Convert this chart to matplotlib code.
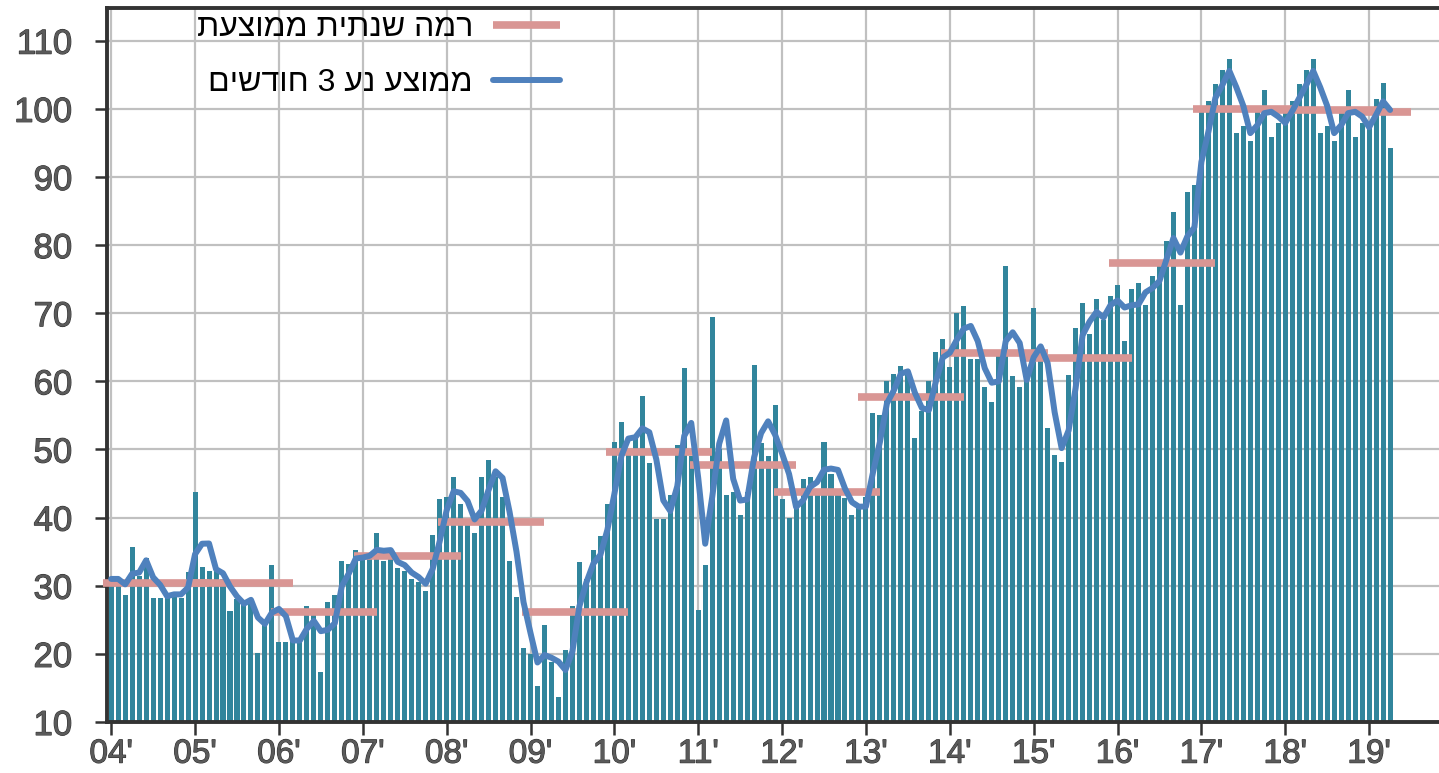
import numpy as np
import pandas as pd
import matplotlib
matplotlib.use('Agg')
import matplotlib.pyplot as plt
import matplotlib.patheffects as pe

plt.rcParams['font.family'] = ['Liberation Sans', 'DejaVu Sans']

# monthly index values, Jan 2004 - Apr 2019
y2004 = [31, 31, 28.6, 35.7, 31.5, 34, 28.2, 28.2, 29, 29, 28.2, 32]
y2005 = [43.7, 32.8, 32.1, 32.4, 31, 26.3, 28, 27.8, 28, 20.2, 25, 33]
y2006 = [21.8, 21.8, 22.3, 21.8, 27, 25.7, 17.3, 27.6, 28.6, 33.6, 33.2, 35.2]
y2007 = [34, 34, 37.8, 33.6, 34.3, 32.6, 32.2, 31, 30.6, 29.3, 37.5, 42.7]
y2008 = [43, 45.9, 42, 39.4, 37.8, 45.9, 48.5, 46, 43, 33.6, 28.3, 20.9]
y2009 = [20, 15.3, 24.2, 18.8, 13.6, 20.5, 27, 33.5, 31, 35.3, 37.3, 42]
y2010 = [51.1, 54, 49.7, 51.7, 57.9, 48, 39.8, 39.8, 43.3, 50.7, 62, 49]
y2011 = [26.5, 33, 69.5, 50, 43.3, 43.8, 40.4, 43.8, 62.4, 51, 49, 56.5]
y2012 = [42.7, 40, 42, 45.6, 45.9, 44.1, 51.1, 46.4, 43.5, 42.9, 40.4, 41.5]
y2013 = [43, 55.3, 55, 60, 61.1, 62.3, 61, 51.7, 55.6, 60, 64.3, 66.2]
y2014 = [62.1, 70, 71.1, 63.3, 63.3, 59.2, 56.9, 63.9, 76.9, 60.8, 59.2, 60.6]
y2015 = [70.8, 64, 53.2, 49.2, 48.2, 61, 67.8, 71.5, 67, 72.1, 69, 72.5]
y2016 = [74.1, 65.9, 73.5, 74.5, 71.2, 75.4, 77.6, 80.6, 84.9, 71.2, 87.8, 88.8]
y2017 = [100, 101.1, 103.7, 105.7, 107.3, 96.5, 97.5, 95.3, 100, 102.8, 95.9, 97.9]
y2018 = [100, 101.1, 103.7, 105.7, 107.3, 96.5, 97.5, 95.3, 100, 102.8, 95.9, 97.9]
y2019 = [98.1, 101.4, 103.8, 94.3]

annual_avg = [30.4, 30.4, 26.1, 34.4, 39.3, 26.2, 49.6, 47.7, 43.8,
              57.7, 64.2, 63.5, 77.3, 100.0, 99.9, 99.6]
year_labels = ["04'", "05'", "06'", "07'", "08'", "09'", "10'", "11'",
               "12'", "13'", "14'", "15'", "16'", "17'", "18'", "19'"]

label_annual = 'רמה שנתית ממוצעת'
label_ma = 'ממוצע נע 3 חודשים'

monthly = np.concatenate([y2004, y2005, y2006, y2007, y2008, y2009, y2010, y2011,
                          y2012, y2013, y2014, y2015, y2016, y2017, y2018, y2019])
x = np.arange(len(monthly))
ma3 = pd.Series(monthly).rolling(3, min_periods=1).mean()

fig = plt.figure(figsize=(14.39, 7.73), dpi=100)
ax = fig.add_axes([107 / 1439, 51 / 773, 1 - 107 / 1439, 714 / 773])

ax.bar(x, monthly, width=0.72, color='#31859C', zorder=2)

# annual average segments
for i, val in enumerate(annual_avg):
    start = 12 * i - 1.2
    end = min(12 * i + 14, len(monthly) + 2)
    seg, = ax.plot([start, end], [val, val], color='#D99694', lw=5.5,
                   solid_capstyle='butt', zorder=3, clip_on=False)

ma_line, = ax.plot(x, ma3, color='#4F81BD', lw=4.3, zorder=4,
                   solid_joinstyle='round', solid_capstyle='round')

ax.set_xlim(-0.6, 190)
ax.set_ylim(10, 114.8)
ax.set_yticks(range(10, 111, 10))
ax.set_xticks(np.arange(0, len(year_labels) * 12, 12))
ax.set_xticklabels(year_labels)

ax.grid(True, color='#c0c0c0', lw=1.6)
ax.set_axisbelow(True)

for side in ['left', 'bottom', 'top']:
    ax.spines[side].set_color('#333333')
    ax.spines[side].set_linewidth(2.8)
ax.spines['right'].set_visible(False)

ax.tick_params(axis='y', length=9, width=1.8, color='#333333', pad=16,
               labelsize=25, labelcolor='#5a5a5a')
ax.tick_params(axis='x', length=9, width=1.8, color='#333333', pad=3,
               labelsize=24, labelcolor='#5a5a5a')
for lab in ax.get_xticklabels() + ax.get_yticklabels():
    lab.set_path_effects([pe.withStroke(linewidth=0.8, foreground='#303030')])

# matplotlib has no bidi support, so Hebrew is given in visual order
leg = ax.legend([seg, ma_line], [label_annual[::-1], label_ma[::-1]],
                loc='upper right', bbox_to_anchor=(560 / 1439, 1 - 13 / 773),
                bbox_transform=fig.transFigure, frameon=False, markerfirst=False,
                fontsize=23, handlelength=2.1, handletextpad=0.62,
                labelspacing=0.78, borderpad=0, borderaxespad=0)

fig.savefig('out.png', dpi=100)
